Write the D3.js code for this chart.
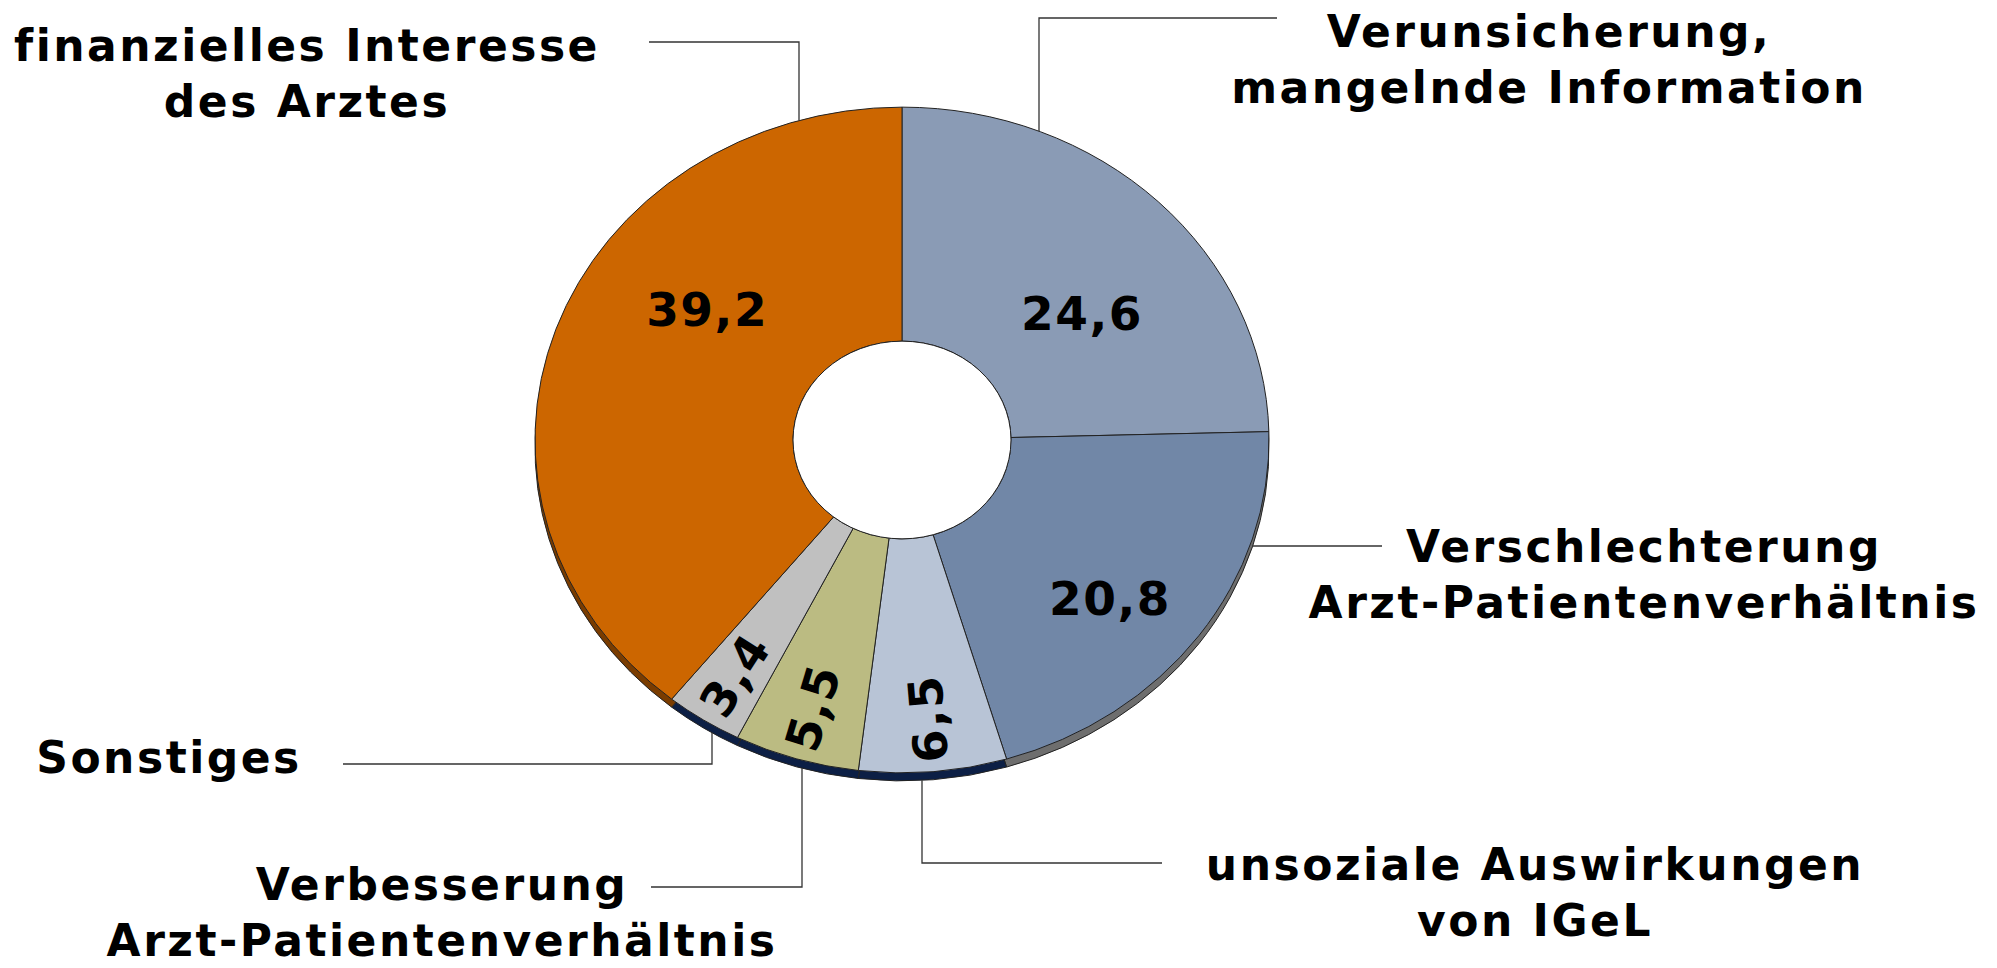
<!DOCTYPE html>
<html>
<head>
<meta charset="utf-8">
<script src="https://cdn.jsdelivr.net/npm/d3@7"></script>
<style>
body { margin: 0; background: #fff; }
svg { display: block; }
text { font-family: "DejaVu Sans", Verdana, sans-serif; font-weight: bold; fill: #000; }
</style>
</head>
<body>
<script>
// Gruende gegen IGeL, Anteile in Prozent
var categories = [
	["Verunsicherung,", "mangelnde Information"],
	["Verschlechterung", "Arzt-Patientenverhältnis"],
	["unsoziale Auswirkungen", "von IGeL"],
	["Verbesserung", "Arzt-Patientenverhältnis"],
	["Sonstiges"],
	["finanzielles Interesse", "des Arztes"]
];
var values = [24.6, 20.8, 6.5, 5.5, 3.4, 39.2];
var colors = ["#8a9bb5", "#7187a7", "#b8c4d6", "#bbbb82", "#c0c0c0", "#cc6600"];
var sideColors = ["#5d6e8a", "#6e6e6e", "#0c1f45", "#0c1f45", "#0c1f45", "#7a3c00"];

var width = 1997, height = 968;
var cx = 902, cy = 440, rx = 367, tilt = 0.907, depth = 8;
var ry = rx * tilt;
var hole = 0.297;

// text blocks: centre x, first baseline
var labelPos = [[1549, 47], [1644, 562], [1535, 880], [442, 900], [169, 773], [307, 61]];
var lineGap = 56;
// leader lines: start at the text, optional elbow, end on the pie edge
var leaders = [
	{x0: 1277, y: 18, elbow: 1039},
	{x0: 1382, y: 546, elbow: null},
	{x0: 1162, y: 863, elbow: 922},
	{x0: 651, y: 887, elbow: 802},
	{x0: 343, y: 764, elbow: 712},
	{x0: 649, y: 42, elbow: 799}
];
// value labels: angle nudge (deg) and distance as share of radius
var valueShift = [8, 4, 0, 0, 0, 17];
var valueRadius = [0.62, 0.74, 0.84, 0.84, 0.84, 0.66];

var fmt = d3.formatLocale({decimal: ",", thousands: ".", grouping: [3], currency: ["", ""]}).format(".1f");

var svg = d3.select("body").append("svg")
	.attr("width", width)
	.attr("height", height);

var pie = d3.pie().sort(null).value(function(d) { return d; });
var slices = pie(values);

// the side wall, a full pie moved down a bit
var side = svg.append("g")
	.attr("transform", "translate(" + cx + "," + (cy + depth) + ") scale(1," + tilt + ")");
side.selectAll("path")
	.data(slices).enter()
	.append("path")
	.attr("d", d3.arc().innerRadius(0).outerRadius(rx))
	.style("fill", function(d, i) { return sideColors[i]; })
	.style("stroke", "#222")
	.style("stroke-width", 1)
	.attr("vector-effect", "non-scaling-stroke");

// top of the donut
var face = svg.append("g")
	.attr("transform", "translate(" + cx + "," + cy + ") scale(1," + tilt + ")");
face.selectAll("path.slice")
	.data(slices).enter()
	.append("path")
	.attr("class", "slice")
	.attr("d", d3.arc().innerRadius(rx * hole).outerRadius(rx))
	.style("fill", function(d, i) { return colors[i]; })
	.style("stroke", "#222")
	.style("stroke-width", 1)
	.attr("vector-effect", "non-scaling-stroke");

face.append("path")
	.attr("d", d3.arc().innerRadius(0).outerRadius(rx * hole).startAngle(0).endAngle(2 * Math.PI)())
	.style("fill", "#fff")
	.style("stroke", "#222")
	.style("stroke-width", 1)
	.attr("vector-effect", "non-scaling-stroke");

// value labels
svg.selectAll("text.val")
	.data(slices).enter()
	.append("text")
	.attr("class", "val")
	.attr("text-anchor", "middle")
	.attr("dominant-baseline", "central")
	.style("font-size", "47px")
	.style("letter-spacing", "1.5px")
	.attr("transform", function(d, i) {
		var a = (d.startAngle + d.endAngle) / 2 + valueShift[i] * Math.PI / 180;
		var r = rx * valueRadius[i];
		var x = cx + r * Math.sin(a);
		var y = cy - r * Math.cos(a) * tilt;
		var rot = d.data < 10 ? a * 180 / Math.PI + 90 : 0;
		return "translate(" + x + "," + y + ") rotate(" + rot + ")";
	})
	.text(function(d) { return fmt(d.data); });

// leader lines
svg.selectAll("path.leader")
	.data(leaders).enter()
	.append("path")
	.attr("class", "leader")
	.attr("d", function(l) {
		if (l.elbow !== null) {
			var dx = (l.elbow - cx) / rx;
			var h = ry * Math.sqrt(1 - dx * dx);
			var yEnd = l.y < cy ? cy - h : cy + h + depth;
			return "M" + l.x0 + "," + l.y + "H" + l.elbow + "V" + yEnd;
		}
		var dy = (l.y - cy - depth) / ry;
		var w = rx * Math.sqrt(1 - dy * dy);
		var xEnd = l.x0 > cx ? cx + w : cx - w;
		return "M" + l.x0 + "," + l.y + "H" + xEnd;
	})
	.style("fill", "none")
	.style("stroke", "#333")
	.style("stroke-width", 1.3);

// category labels
var lab = svg.selectAll("text.cat")
	.data(categories).enter()
	.append("text")
	.attr("class", "cat")
	.attr("text-anchor", "middle")
	.style("font-size", "44px")
	.style("letter-spacing", "2.5px")
	.attr("x", function(d, i) { return labelPos[i][0]; })
	.attr("y", function(d, i) { return labelPos[i][1]; });

lab.selectAll("tspan")
	.data(function(d, i) { return d.map(function(t) { return {t: t, x: labelPos[i][0]}; }); })
	.enter()
	.append("tspan")
	.attr("x", function(d) { return d.x; })
	.attr("dy", function(d, j) { return j === 0 ? 0 : lineGap; })
	.text(function(d) { return d.t; });
</script>
</body>
</html>
